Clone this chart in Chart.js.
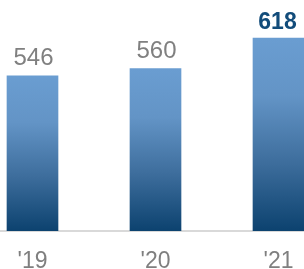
<!DOCTYPE html>
<html>
<head>
<meta charset="utf-8">
<script src="https://cdn.jsdelivr.net/npm/chart.js@4/dist/chart.umd.min.js"></script>
<style>
  html, body { margin: 0; padding: 0; background: #fff; overflow: hidden; width: 304px; height: 269px; }
  #wrap { position: absolute; left: -29px; top: 0; width: 369px; height: 269px; }
</style>
</head>
<body>
<div id="wrap"><canvas id="c" width="369" height="269"></canvas></div>
<script>
const categories = ["'19", "'20", "'21"];
const values = [546, 560, 618];
const valueLabels = ["546", "560", "618"];

const FONT = "'Liberation Sans', Arial, sans-serif";

function barGradient(context) {
  const chart = context.chart;
  const area = chart.chartArea;
  if (!area || context.type !== 'data') return '#4a7bb0';
  const yScale = chart.scales.y;
  const top = yScale.getPixelForValue(context.raw);
  const bottom = yScale.getPixelForValue(yScale.min);
  const g = chart.ctx.createLinearGradient(0, top, 0, bottom);
  g.addColorStop(0, '#6a9dd1');
  g.addColorStop(0.3, '#6394c6');
  g.addColorStop(0.65, '#3d6d9c');
  g.addColorStop(1, '#0c426f');
  return g;
}

const labelPlugin = {
  id: 'valueLabels',
  afterDatasetsDraw(chart) {
    const ctx = chart.ctx;
    const meta = chart.getDatasetMeta(0);
    ctx.save();
    ctx.textAlign = 'center';
    ctx.textBaseline = 'alphabetic';
    meta.data.forEach((bar, i) => {
      const last = i === values.length - 1;
      ctx.font = (last ? 'bold 23px ' : '24px ') + FONT;
      ctx.fillStyle = last ? '#124c7a' : '#808080';
      ctx.fillText(valueLabels[i], bar.x + (last ? -1 : 1), bar.y - (last ? 9 : 11));
    });
    ctx.restore();
  }
};

new Chart(document.getElementById('c'), {
  type: 'bar',
  data: {
    labels: categories,
    datasets: [{
      data: values,
      backgroundColor: barGradient,
      borderWidth: 0,
      barThickness: 51
    }]
  },
  options: {
    responsive: false,
    animation: false,
    devicePixelRatio: 1,
    layout: { padding: 0 },
    plugins: { legend: { display: false }, tooltip: { enabled: false } },
    scales: {
      x: {
        grid: { display: false, drawTicks: false },
        border: { display: true, color: '#d9d9d9', width: 2 },
        ticks: {
          color: '#7f7f7f',
          font: { family: FONT, size: 23 },
          padding: 17
        },
        afterFit(scale) { scale.height = 38; }
      },
      y: {
        display: false,
        min: 252,
        max: 690
      }
    }
  },
  plugins: [labelPlugin]
});
</script>
</body>
</html>
